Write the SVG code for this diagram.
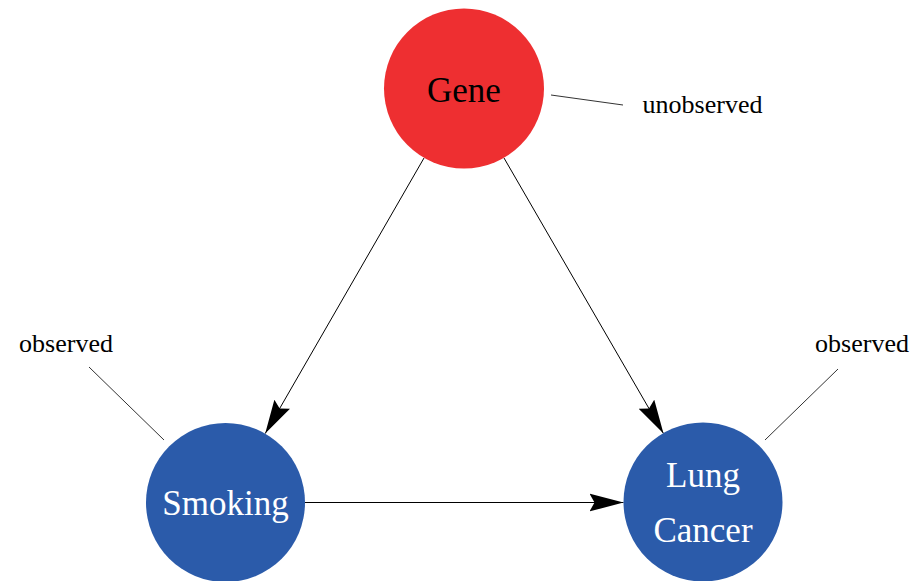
<svg xmlns="http://www.w3.org/2000/svg" width="914" height="581" viewBox="0 0 914 581">
<defs>
<style>
.node-red{fill:#EE2F31;}
.node-blue{fill:#2B5BAA;}
.lbl{font-family:"Liberation Serif","Times New Roman",serif;text-anchor:middle;}
.big{font-size:35px;}
.small{font-size:26px;fill:#000;}
.edge{stroke:#000;stroke-width:1;fill:none;}
.lead{stroke:#333;stroke-width:1;fill:none;}
</style>
<marker id="arr" viewBox="-34 -10 34 20" refX="0" refY="0" markerWidth="34" markerHeight="20" markerUnits="userSpaceOnUse" orient="auto">
<path d="M0,0 L-34,-9 L-29,0 L-34,9 Z" fill="#000"/>
</marker>
</defs>
<g id="connectors">
<line class="edge" x1="424" y1="158" x2="265.2" y2="433.6" marker-end="url(#arr)"/>
<line class="edge" x1="504" y1="158" x2="663.5" y2="433.6" marker-end="url(#arr)"/>
<line class="edge" x1="305" y1="502.5" x2="623.5" y2="502.5" marker-end="url(#arr)"/>
<line class="lead" x1="551" y1="95" x2="623" y2="105"/>
<line class="lead" x1="89" y1="367" x2="164" y2="440"/>
<line class="lead" x1="838" y1="369" x2="765" y2="440"/>
</g>
<g id="gene">
<circle class="node-red" cx="464" cy="88.5" r="80"/>
<text class="lbl big" x="464" y="102" fill="#000">Gene</text>
</g>
<g id="smoking">
<circle class="node-blue" cx="225.5" cy="502.5" r="79.5"/>
<text class="lbl big" x="225.5" y="515" fill="#fff">Smoking</text>
</g>
<g id="lung-cancer">
<circle class="node-blue" cx="703" cy="502" r="79.5"/>
<text class="lbl big" x="703" y="487" fill="#fff">Lung</text>
<text class="lbl big" x="703" y="542" fill="#fff">Cancer</text>
</g>
<g id="label-unobserved">
<text class="lbl small" x="702.5" y="113">unobserved</text>
</g>
<g id="label-observed-left">
<text class="lbl small" x="66" y="352">observed</text>
</g>
<g id="label-observed-right">
<text class="lbl small" x="862" y="352">observed</text>
</g>
</svg>
